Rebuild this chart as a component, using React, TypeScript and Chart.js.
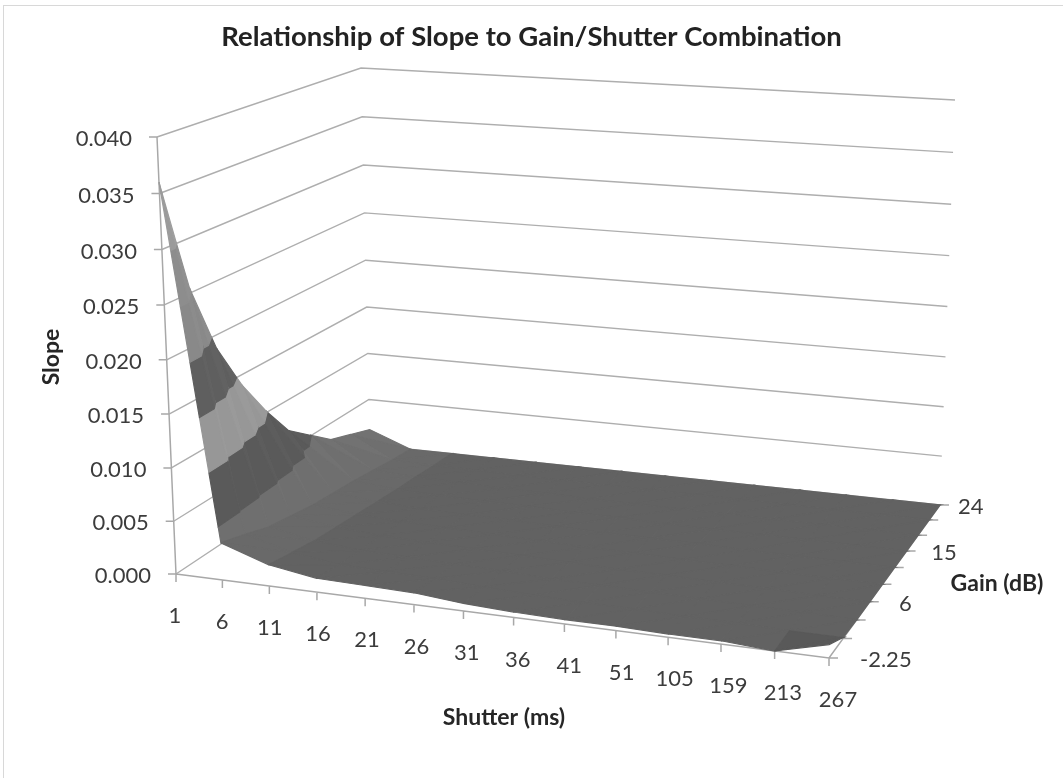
import React, { useEffect, useRef } from "react";
import { Chart, registerables } from "chart.js";

Chart.register(...registerables);

const titleText = "Relationship of Slope to Gain/Shutter Combination";
const shutterTitle = "Shutter (ms)";
const gainTitle = "Gain (dB)";
const slopeTitle = "Slope";

const shutterLabels = ["1", "6", "11", "16", "21", "26", "31", "36", "41", "51", "105", "159", "213", "267"];
const gainLevels = ["-2.25", "0", "3", "6", "9", "12", "15", "18", "21", "24"];
const gainShown = ["-2.25", "6", "15", "24"];
const slopeTicks = [0, 0.005, 0.01, 0.015, 0.02, 0.025, 0.03, 0.035, 0.04];

const slopeAtGainM225 = [0.036, 0.0035, 0.002, 0.0013, 0.0012, 0.0011, 0.0007, 0.0005, 0.0004, 0.0004, 0.0003, 0.0003, 0.0, 0.0012];
const slopeAtGain0 = [0.0255, 0.0028, 0.0016, 0.001, 0.0009, 0.0008, 0.0006, 0.0004, 0.0003, 0.0003, 0.0002, 0.0002, 0.0001, 0.0001];
const slopeAtGain3 = [0.0187, 0.002, 0.0012, 0.0008, 0.0007, 0.0006, 0.0005, 0.0003, 0.0003, 0.0002, 0.0002, 0.0001, 0.0001, 0.0];
const slopeAtGain6 = [0.014, 0.0016, 0.001, 0.0007, 0.0006, 0.0005, 0.0004, 0.0003, 0.0002, 0.0002, 0.0001, 0.0001, 0.0, 0.0];
const slopeAtGain9 = [0.0102, 0.0012, 0.0008, 0.0006, 0.0005, 0.0004, 0.0003, 0.0002, 0.0002, 0.0001, 0.0001, 0.0, 0.0, 0.0];
const slopeAtGain12 = [0.0069, 0.001, 0.0006, 0.0004, 0.0003, 0.0003, 0.0002, 0.0001, 0.0001, 0.0001, 0.0, 0.0, 0.0, 0.0];
const slopeAtGain15 = [0.0051, 0.0008, 0.0004, 0.0003, 0.0002, 0.0002, 0.0001, 0.0001, 0.0, 0.0, 0.0, 0.0, 0.0, 0.0];
const slopeAtGain18 = [0.0033, 0.0005, 0.0003, 0.0002, 0.0001, 0.0001, 0.0, 0.0, 0.0, 0.0, 0.0, 0.0, 0.0, 0.0];
const slopeAtGain21 = [0.0025, 0.0002, 0.0001, 0.0001, 0.0, 0.0, 0.0, 0.0, 0.0, 0.0, 0.0, 0.0, 0.0, 0.0];
const slopeAtGain24 = [0.0017, 0.0, 0.0, 0.0, 0.0, 0.0, 0.0, 0.0, 0.0, 0.0, 0.0, 0.0, 0.0, 0.0];
const surface = [slopeAtGainM225, slopeAtGain0, slopeAtGain3, slopeAtGain6, slopeAtGain9, slopeAtGain12, slopeAtGain15, slopeAtGain18, slopeAtGain21, slopeAtGain24];

const zMax = 0.04;
const bandGrays = [0x62, 0x5b, 0x98, 0x60, 0x8a, 0x8e, 0x9c, 0x9c];
const FONT = "Lato, 'Open Sans', sans-serif";
const TITLE_H = 60;

// Box corners on screen: [shutter, gain, slope] in 0/1
const C: Record<string, number[]> = {
  "000": [176, 574], "100": [829, 658], "010": [370, 445], "110": [940, 505],
  "001": [157, 137], "101": [834, 193], "011": [361, 68], "111": [955, 100],
};
const warp = (s: number, k: number) => s / (k - (k - 1) * s);
const uOf = (i: number) => warp(i / (shutterLabels.length - 1), 1.09);
const vOf = (j: number) => 1 - warp(1 - j / (gainLevels.length - 1), 1.16);
const wOf = (z: number) => warp(z / zMax, 1.04);

function project(u: number, v: number, w: number) {
  const out = [0, 0];
  for (let a = 0; a < 2; a++) for (let b = 0; b < 2; b++) for (let c = 0; c < 2; c++) {
    const f = (a ? u : 1 - u) * (b ? v : 1 - v) * (c ? w : 1 - w);
    const p = C[`${a}${b}${c}`];
    out[0] += f * p[0];
    out[1] += f * p[1];
  }
  return { x: out[0], y: out[1] };
}

type V = { i: number; j: number; z: number };
const lerpV = (a: V, b: V, t: number): V => ({ i: a.i + (b.i - a.i) * t, j: a.j + (b.j - a.j) * t, z: a.z + (b.z - a.z) * t });

function clip(poly: V[], level: number, keepAbove: boolean): V[] {
  const out: V[] = [];
  for (let n = 0; n < poly.length; n++) {
    const a = poly[n], b = poly[(n + 1) % poly.length];
    const ai = keepAbove ? a.z >= level : a.z <= level;
    const bi = keepAbove ? b.z >= level : b.z <= level;
    if (ai) out.push(a);
    if (ai !== bi) out.push(lerpV(a, b, (level - a.z) / (b.z - a.z)));
  }
  return out;
}

const gray = (g: number) => `rgb(${g},${g},${g})`;
const toScreen = (p: V) => project(warpIdx(p.i, uOf), warpIdx(p.j, vOf), wOf(p.z));
function warpIdx(x: number, f: (n: number) => number) {
  const lo = Math.floor(x), hi = Math.ceil(x);
  return f(lo) + (f(hi) - f(lo)) * (x - lo);
}

function surfaceDatasets() {
  const polys: any[] = [];
  for (let j = gainLevels.length - 2; j >= 0; j--) {
    for (let i = 0; i < shutterLabels.length - 1; i++) {
      const a: V = { i, j, z: surface[j][i] };
      const b: V = { i: i + 1, j, z: surface[j][i + 1] };
      const c: V = { i: i + 1, j: j + 1, z: surface[j + 1][i + 1] };
      const d: V = { i, j: j + 1, z: surface[j + 1][i] };
      const tris = [[a, c, d], [a, b, c]];
      tris.forEach((tri, tn) => {
        bandGrays.forEach((bg, bi) => {
          const lo = bi * 0.005, hi = lo + 0.005;
          let p = clip(tri, lo, true);
          if (p.length) p = clip(p, hi, false);
          if (p.length < 3) return;
          let g = bg;
          if (bi === 0) g = i === 0 ? 0x70 : i === 1 ? 0x69 : 0x62;
          if (bi === 0 && j === 0 && i === shutterLabels.length - 2) g = 0x59;
          if (i === 0) g += tn === 0 ? 1.5 : -1.5;
          const pts = p.map(toScreen);
          pts.push(pts[0]);
          polys.push({
            data: pts,
            showLine: true,
            fill: "shape",
            backgroundColor: gray(Math.round(g)),
            borderColor: gray(Math.round(g)),
            borderWidth: 1.2,
            pointRadius: 0,
            tension: 0,
          });
        });
      });
    }
  }
  return polys;
}

function lineDs(data: any[], color: string, width: number) {
  return { data, showLine: true, fill: false, borderColor: color, borderWidth: width, pointRadius: 0, tension: 0 };
}
const GAP = { x: NaN, y: NaN };

function structureDatasets() {
  const grid: any[] = [];
  slopeTicks.forEach((z) => {
    const w = wOf(z);
    grid.push(project(0, 0, w), project(0, 1, w), project(1, 1, w), GAP);
  });
  const axes: any[] = [];
  axes.push(project(0, 0, 0), project(0, 0, 1), GAP);
  axes.push(project(0, 0, 0), project(1, 0, 0), project(1, 1, 0), GAP);
  slopeTicks.forEach((z) => {
    const p = project(0, 0, wOf(z));
    axes.push({ x: p.x - 8, y: p.y }, p, GAP);
  });
  shutterLabels.forEach((_, i) => {
    const p = project(uOf(i), 0, 0);
    axes.push(p, { x: p.x, y: p.y + 8 }, GAP);
  });
  gainLevels.forEach((_, j) => {
    const p = project(1, vOf(j), 0);
    axes.push(p, { x: p.x + 9, y: p.y }, GAP);
  });
  return [lineDs(grid, "#aeaeae", 1.4), lineDs(axes, "#a8a8a8", 1.5)];
}

const textPlugin = {
  id: "boxText",
  afterDraw(chart: any) {
    const { ctx, scales } = chart;
    const X = (x: number) => scales.x.getPixelForValue(x);
    const Y = (y: number) => scales.y.getPixelForValue(y);
    ctx.save();
    ctx.textBaseline = "middle";
    ctx.fillStyle = "#3c3c3c";
    ctx.font = `22px ${FONT}`;
    ctx.textAlign = "right";
    slopeTicks.forEach((z) => {
      const p = project(0, 0, wOf(z));
      ctx.fillText(z.toFixed(3), X(p.x - 25), Y(p.y + 2));
    });
    ctx.textAlign = "center";
    shutterLabels.forEach((s, i) => {
      const u = uOf(i);
      const p = project(u, 0, 0);
      ctx.fillText(s, X(p.x - 1 + 10 * u), Y(p.y + 42));
    });
    ctx.textAlign = "left";
    gainLevels.forEach((g, j) => {
      if (!gainShown.includes(g)) return;
      const v = vOf(j);
      const p = project(1, v, 0);
      ctx.fillText(g, X(p.x + 31 - 13 * v * v), Y(p.y + 2));
    });
    ctx.fillStyle = "#262626";
    ctx.font = `bold 23px ${FONT}`;
    ctx.textAlign = "center";
    ctx.fillText(shutterTitle, X(504), Y(718));
    ctx.fillText(gainTitle, X(997), Y(584));
    ctx.translate(X(52), Y(357));
    ctx.rotate(-Math.PI / 2);
    ctx.fillText(slopeTitle, 0, 0);
    ctx.restore();
  },
};

export default function App() {
  const ref = useRef<HTMLCanvasElement>(null);
  useEffect(() => {
    const datasets = [...structureDatasets(), ...surfaceDatasets()];
    datasets.forEach((d: any, n) => { d.order = datasets.length - n; d.clip = false; });
    const chart = new Chart(ref.current as HTMLCanvasElement, {
      type: "scatter",
      data: { datasets },
      plugins: [textPlugin],
      options: {
        animation: false,
        responsive: false,
        layout: { padding: 0 },
        events: [],
        plugins: {
          legend: { display: false },
          tooltip: { enabled: false },
          title: {
            display: true,
            text: titleText,
            color: "#222222",
            font: { family: FONT, size: 27.5, weight: "bold", lineHeight: 1.2 },
            padding: { top: 20.5, bottom: 6.5 },
          },
        },
        scales: {
          x: { type: "linear", display: false, min: 0, max: 1063 },
          y: { type: "linear", display: false, min: TITLE_H, max: 778, reverse: true },
        },
      },
    } as any);
    return () => chart.destroy();
  }, []);
  return (
    <div style={{ position: "fixed", left: 0, top: 0, width: 1063, height: 778, background: "#fff", overflow: "hidden" }}>
      <canvas ref={ref} width={1063} height={778} style={{ display: "block", filter: "blur(0.6px)" }} />
      <div style={{ position: "absolute", left: 3, top: 5, width: 1070, height: 790, border: "1px solid #d8d8d8" }} />
    </div>
  );
}
